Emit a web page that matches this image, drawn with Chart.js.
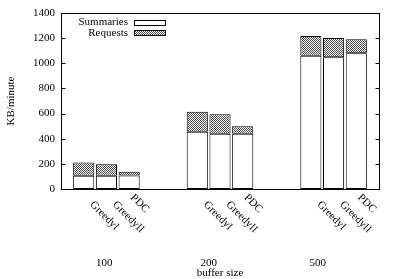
<!DOCTYPE html>
<html>
<head>
<meta charset="utf-8">
<script src="https://cdn.jsdelivr.net/npm/chart.js@4"></script>
<style>
  html, body { margin: 0; padding: 0; background: #fff; }
  #wrap { width: 399px; height: 279px; }
</style>
</head>
<body>
<div id="wrap"><canvas id="myChart"></canvas></div>
<script>
const groups = ['100', '200', '500'];
const methods = ['GreedyI', 'GreedyII', 'PDC'];
const summaries = [105, 105, 108, 455, 440, 440, 1060, 1048, 1080];
const requests = [105, 91, 30, 160, 155, 60, 157, 153, 111];
const yTicks = [0, 200, 400, 600, 800, 1000, 1200, 1400];

const FONT = "'Liberation Serif', 'Times New Roman', serif";

// one empty slot at each end, two between groups (like gnuplot's histogram gap)
const labels = [''];
const sumData = [null];
const reqData = [null];
const barIndex = [];
groups.forEach((g, gi) => {
  if (gi > 0) { labels.push('', ''); sumData.push(null, null); reqData.push(null, null); }
  methods.forEach((m, mi) => {
    barIndex.push(labels.length);
    labels.push(m);
    sumData.push(summaries[gi * methods.length + mi]);
    reqData.push(requests[gi * methods.length + mi]);
  });
});
labels.push(''); sumData.push(null); reqData.push(null);

function makeHatch() {
  const c = document.createElement('canvas');
  c.width = 4; c.height = 4;
  const x = c.getContext('2d');
  x.fillStyle = '#fff';
  x.fillRect(0, 0, 4, 4);
  x.fillStyle = '#4a4a4a';
  for (let i = 0; i < 4; i++) {
    for (let j = 0; j < 4; j++) {
      if ((i + j) % 2 === 0) x.fillRect(i, j, 1, 1);
    }
  }
  return x.createPattern(c, 'repeat');
}

// frame, inside ticks, legend and the x labels
const decorations = {
  id: 'decorations',
  afterDraw(chart) {
    const { ctx, chartArea: a, scales: { x, y } } = chart;
    ctx.save();
    ctx.strokeStyle = '#000';
    ctx.lineWidth = 1;
    const L = Math.round(a.left) + 0.5, R = Math.round(a.right) + 0.5;
    const T = Math.round(a.top) + 0.5, B = Math.round(a.bottom) + 0.5;
    ctx.strokeRect(L, T, R - L, B - T);
    yTicks.forEach(v => {
      const py = Math.round(y.getPixelForValue(v)) + 0.5;
      ctx.beginPath();
      ctx.moveTo(L, py); ctx.lineTo(L + 4, py);
      ctx.moveTo(R, py); ctx.lineTo(R - 4, py);
      ctx.stroke();
    });

    ctx.font = '11px ' + FONT;
    ctx.fillStyle = '#000';

    // legend: text right aligned, sample box after it
    chart.data.datasets.forEach((ds, i) => {
      const cy = a.top + 9.5 + i * 10.5;
      ctx.textAlign = 'right';
      ctx.textBaseline = 'middle';
      ctx.fillStyle = '#000';
      ctx.fillText(ds.label, a.left + 67, cy);
      ctx.fillStyle = ds.backgroundColor;
      ctx.fillRect(a.left + 73.5, Math.round(cy) - 2.5, 31, 5);
      ctx.strokeRect(a.left + 73.5, Math.round(cy) - 2.5, 31, 5);
    });

    // rotated method names
    ctx.fillStyle = '#000';
    ctx.textAlign = 'left';
    ctx.textBaseline = 'middle';
    barIndex.forEach((idx, k) => {
      const mi = k % methods.length;
      const shift = mi < 2 ? 7 : 0;
      const px = x.getPixelForValue(idx) + 3 + shift * 0.7;
      const py = a.bottom + 7 + shift;
      ctx.save();
      ctx.translate(px, py);
      ctx.rotate(Math.PI / 4);
      ctx.fillText(methods[mi], 0, 0);
      ctx.restore();
    });

    // group names and axis title
    const groupLabelAt = [1.9, 6.5, 11.3];
    ctx.textAlign = 'center';
    groups.forEach((g, gi) => {
      ctx.fillText(g, x.getPixelForValue(groupLabelAt[gi]), a.bottom + 74);
    });
    ctx.fillText('buffer size', x.getPixelForValue(7), a.bottom + 84);
    ctx.restore();
  }
};

new Chart(document.getElementById('myChart'), {
  type: 'bar',
  data: {
    labels: labels,
    datasets: [
      {
        label: 'Summaries',
        data: sumData,
        backgroundColor: '#fff',
        borderColor: '#000',
        borderWidth: 1,
        borderSkipped: false,
        categoryPercentage: 1,
        barPercentage: 0.93
      },
      {
        label: 'Requests',
        data: reqData,
        backgroundColor: makeHatch(),
        borderColor: '#000',
        borderWidth: 1,
        borderSkipped: false,
        categoryPercentage: 1,
        barPercentage: 0.93
      }
    ]
  },
  options: {
    responsive: true,
    maintainAspectRatio: false,
    animation: false,
    devicePixelRatio: 1,
    layout: { padding: { left: 0, top: 13, right: 20, bottom: 90 } },
    plugins: {
      legend: { display: false },
      tooltip: { enabled: false }
    },
    scales: {
      x: {
        display: false,
        stacked: true,
        offset: false
      },
      y: {
        stacked: true,
        min: 0,
        max: 1400,
        afterBuildTicks(scale) { scale.ticks = yTicks.map(v => ({ value: v })); },
        afterFit(scale) { scale.width = 61; },
        ticks: {
          color: '#000',
          font: { family: FONT, size: 11 },
          padding: 6,
          callback: v => String(v)
        },
        grid: { display: false, drawTicks: false },
        border: { display: false },
        title: {
          display: true,
          text: 'KB/minute',
          color: '#000',
          font: { family: FONT, size: 11 },
          padding: { top: 5, bottom: 0 }
        }
      }
    }
  },
  plugins: [decorations]
});
</script>
</body>
</html>
